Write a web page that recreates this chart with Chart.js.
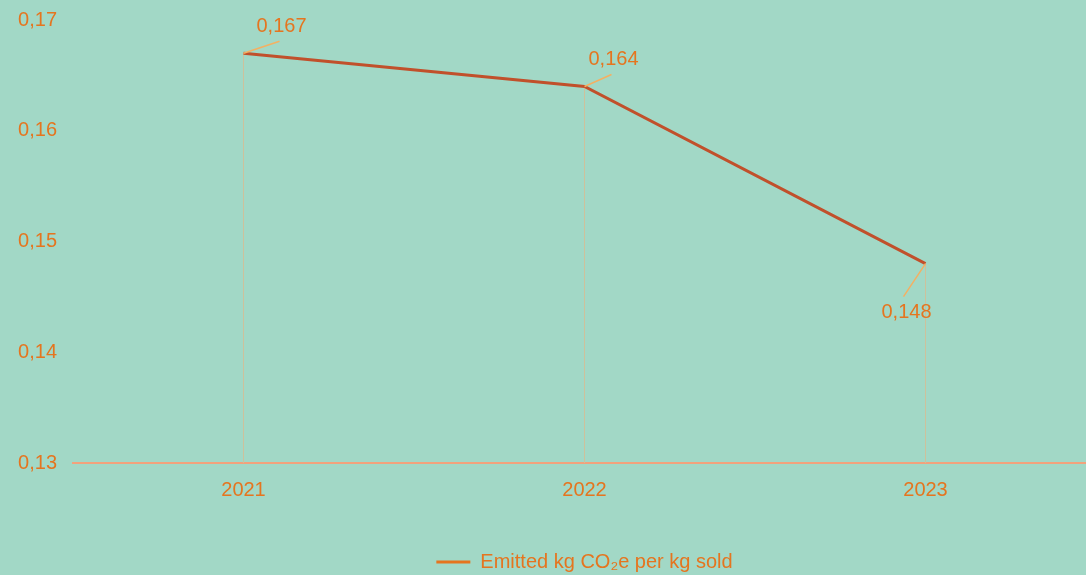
<!DOCTYPE html>
<html>
<head>
<meta charset="utf-8">
<script src="https://cdn.jsdelivr.net/npm/chart.js@4.4.1/dist/chart.umd.min.js"></script>
<style>
  html, body { margin: 0; padding: 0; background: #a2d8c6; overflow: hidden; }
  #wrap { width: 1086px; height: 575px; overflow: hidden; }
  #box { width: 1096px; height: 575px; }
</style>
</head>
<body>
<div id="wrap"><div id="box"><canvas id="chart"></canvas></div></div>
<script>
// chart values
const years = ['2021', '2022', '2023'];
const emitted = [0.167, 0.164, 0.148];
const yTicks = [0.13, 0.14, 0.15, 0.16, 0.17];
const seriesName = 'Emitted kg CO\u2082e per kg sold';

const orange = '#e5751f';
const fontFamily = "'Liberation Sans', Arial, sans-serif";

const fmt = v => v.toFixed(3).replace(/0+$/, '').replace('.', ',');

// label leader offsets (dx, dy from point) and text offset from leader end
const leaders = [
  { dx: 36, dy: -12, tx: 2, ty: -15 },
  { dx: 27, dy: -12, tx: 2, ty: -15 },
  { dx: -22, dy: 33, tx: 3, ty: 16 }
];

// drop lines from each point down to the axis + leader labels
const dropAndLabels = {
  id: 'dropAndLabels',
  beforeDatasetsDraw(chart) {
    const { ctx, scales: { x, y } } = chart;
    ctx.save();
    ctx.strokeStyle = '#cdc19c';
    ctx.lineWidth = 1;
    emitted.forEach((v, i) => {
      const px = Math.floor(x.getPixelForValue(i)) + 0.5;
      ctx.beginPath();
      ctx.moveTo(px, y.getPixelForValue(v));
      ctx.lineTo(px, y.getPixelForValue(yTicks[0]));
      ctx.stroke();
    });
    ctx.restore();
  },
  afterDatasetsDraw(chart) {
    const { ctx, scales: { x, y } } = chart;
    ctx.save();
    ctx.font = '20px ' + fontFamily;
    ctx.textAlign = 'center';
    ctx.textBaseline = 'middle';
    emitted.forEach((v, i) => {
      const px = x.getPixelForValue(i);
      const py = y.getPixelForValue(v);
      const l = leaders[i];
      ctx.strokeStyle = '#f4b062';
      ctx.lineWidth = 1.5;
      ctx.beginPath();
      ctx.moveTo(px, py);
      ctx.lineTo(px + l.dx, py + l.dy);
      ctx.stroke();
      ctx.fillStyle = orange;
      ctx.fillText(fmt(v), px + l.dx + l.tx, py + l.dy + l.ty);
    });
    ctx.restore();
  }
};

new Chart(document.getElementById('chart'), {
  type: 'line',
  data: {
    labels: years,
    datasets: [{
      label: seriesName,
      data: emitted,
      borderColor: '#c1502b',
      borderWidth: 3,
      pointRadius: 0,
      tension: 0,
      fill: false
    }]
  },
  options: {
    responsive: true,
    maintainAspectRatio: false,
    animation: false,
    layout: { padding: { left: 15, right: 0, top: 20, bottom: -7 } },
    plugins: {
      tooltip: { enabled: false },
      legend: {
        position: 'bottom',
        fullSize: false,
        labels: {
          color: orange,
          font: { family: fontFamily, size: 20 },
          boxWidth: 34,
          boxHeight: 3,
          padding: 5,
          generateLabels(chart) {
            return chart.data.datasets.map((ds, i) => ({
              text: ds.label,
              fillStyle: orange,
              strokeStyle: orange,
              lineWidth: 0,
              fontColor: orange,
              datasetIndex: i
            }));
          }
        }
      }
    },
    scales: {
      x: {
        offset: true,
        afterFit(scale) { scale.height += 30; },
        grid: { display: false, drawTicks: false },
        border: { display: true, color: '#f2a27c', width: 2 },
        ticks: { color: orange, font: { family: fontFamily, size: 20 }, padding: 15 }
      },
      y: {
        min: yTicks[0],
        max: yTicks[yTicks.length - 1],
        afterFit(scale) { scale.width = 58; scale.paddingTop = 0; scale.paddingBottom = 0; },
        afterBuildTicks(scale) { scale.ticks = yTicks.map(v => ({ value: v })); },
        grid: { display: false, drawTicks: false },
        border: { display: false },
        ticks: {
          color: orange,
          font: { family: fontFamily, size: 20 },
          padding: 16,
          callback: v => String(v).replace('.', ',')
        }
      }
    }
  },
  plugins: [dropAndLabels]
});
</script>
</body>
</html>
